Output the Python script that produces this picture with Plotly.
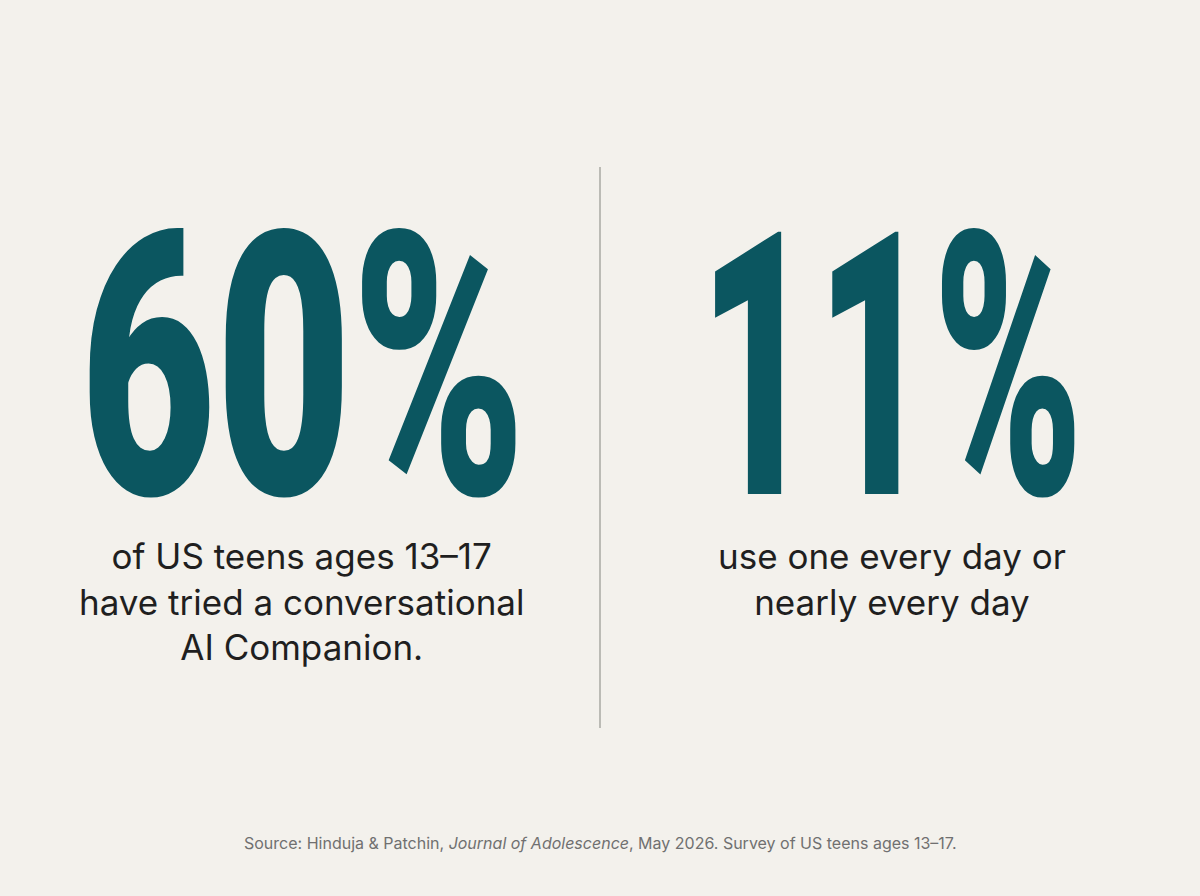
import plotly.graph_objects as go

# headline figures and their captions, left to right
STATS = ["60%", "11%"]
CAPTIONS = [
    ["of US teens ages 13–17", "have tried a conversational", "AI Companion."],
    ["use one every day or", "nearly every day"],
]
SOURCE = ("Source: Hinduja & Patchin, <i>Journal of Adolescence</i>, May 2026. "
          "Survey of US teens ages 13–17.")

BG = "#f3f1ec"
TEAL = "#0b5660"
INK = "#1f1f1f"
GREY = "#707070"

W, H = 1200, 896
NUM_X = [303, 891]
CAP_X = [301, 892]
NUM_Y = 368
NUM_SIZE = 369
CAP_TOP = 556          # centre of first caption line
LINE_GAP = 45.5
# no condensed face is installed, so the numbers get narrowed in the page
SQUEEZE = [0.635, 0.548]

fig = go.Figure()

# big numbers first so they are annotations 0 and 1
for i, stat in enumerate(STATS):
    fig.add_annotation(
        x=NUM_X[i], y=NUM_Y, text=stat,
        xanchor="center", yanchor="middle", showarrow=False,
        height=300, valign="middle",
        font=dict(family="Roboto", size=NUM_SIZE, weight=900, color=TEAL),
    )

for i, lines in enumerate(CAPTIONS):
    mid = CAP_TOP + LINE_GAP * (len(lines) - 1) / 2
    fig.add_annotation(
        x=CAP_X[i], y=mid, text="<br>".join(lines),
        xanchor="center", yanchor="middle", showarrow=False, align="center",
        font=dict(family="Inter", size=35, color=INK),
    )

fig.add_annotation(
    x=W / 2, y=843, text=SOURCE, xanchor="center", yanchor="middle",
    showarrow=False, font=dict(family="Inter", size=16, color=GREY),
)

fig.add_shape(type="line", x0=600, x1=600, y0=167, y1=728,
              line=dict(color="#a9a8a3", width=1.5))

fig.update_layout(
    width=W, height=H,
    paper_bgcolor=BG, plot_bgcolor=BG,
    margin=dict(l=0, r=0, t=0, b=0),
    xaxis=dict(range=[0, W], visible=False, fixedrange=True),
    yaxis=dict(range=[H, 0], visible=False, fixedrange=True),
    showlegend=False,
)

post = """
document.body.style.margin = '0';
var gd = document.getElementById('{plot_id}');
var squeeze = %s;
squeeze.forEach(function (s, i) {
  gd.querySelectorAll('.annotation[data-index="' + i + '"] text').forEach(function (t) {
    t.style.transformBox = 'fill-box';
    t.style.transformOrigin = 'center';
    t.style.transform = 'scaleX(' + s + ')';
  });
});
""" % SQUEEZE

fig.write_html("out.html", config={"displayModeBar": False}, post_script=post)
